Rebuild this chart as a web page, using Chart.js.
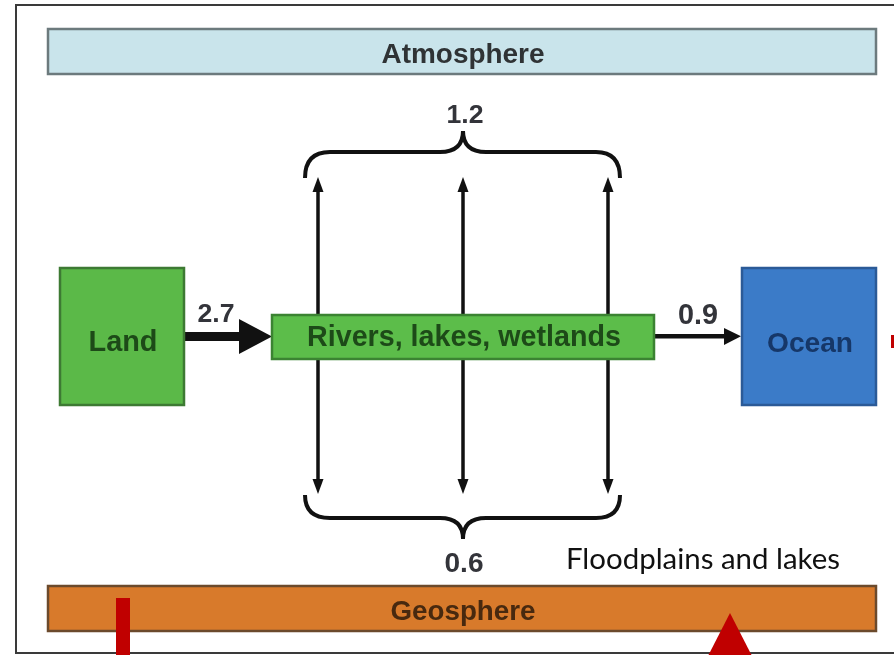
<!DOCTYPE html>
<html>
<head>
<meta charset="utf-8">
<script src="https://cdn.jsdelivr.net/npm/chart.js@4"></script>
<style>
  html, body { margin: 0; padding: 0; background: #ffffff; }
  #wrap { width: 894px; height: 655px; position: relative; }
</style>
</head>
<body>
<div id="wrap"><canvas id="chartFlux"></canvas></div>
<script>
// compartments and water fluxes (Pg C / yr)
const compartments = ["Atmosphere", "Land", "Rivers, lakes, wetlands", "Ocean", "Geosphere"];
const fluxFrom = ["Land", "Rivers, lakes, wetlands", "Rivers, lakes, wetlands", "Rivers, lakes, wetlands"];
const fluxTo = ["Rivers, lakes, wetlands", "Ocean", "Atmosphere", "Geosphere"];
const fluxValues = [2.7, 0.9, 1.2, 0.6];
const noteLabels = ["Floodplains and lakes"];

// layout, in page units (x to the right, y down)
const boxLayout = {
  "Atmosphere": { x0: 48, y0: 29, x1: 876, y1: 74, fill: "#c9e4eb", stroke: "#6c7a7d", ink: "#2f3335", textW: 163, base: 63 },
  "Land": { x0: 60, y0: 268, x1: 184, y1: 405, fill: "#5bb948", stroke: "#3d7a33", ink: "#1d4a18", textW: 69, base: 351 },
  "Rivers, lakes, wetlands": { x0: 272, y0: 315, x1: 654, y1: 359, fill: "#5cbd4a", stroke: "#3b8332", ink: "#1d4a18", textW: 314, base: 346 },
  "Ocean": { x0: 742, y0: 268, x1: 876, y1: 405, fill: "#3b7bc8", stroke: "#2b5a97", ink: "#163768", textW: 86, base: 352 },
  "Geosphere": { x0: 48, y0: 586, x1: 876, y1: 631, fill: "#d87a2b", stroke: "#6b4a2c", ink: "#48290f", textW: 145, base: 620 },
};
const riverColumns = [318, 463, 608];

function fontFor(ctx, text, weight, family, width) {
  ctx.font = `${weight} 100px ${family}`;
  const size = (100 * width) / ctx.measureText(text).width;
  return `${weight} ${size.toFixed(2)}px ${family}`;
}

const diagramPlugin = {
  id: "diagram",
  afterDraw(chart) {
    const ctx = chart.ctx;
    const sx = chart.scales.x, sy = chart.scales.y;
    const X = (v) => sx.getPixelForValue(v);
    const Y = (v) => sy.getPixelForValue(v);
    ctx.save();

    // outer frame
    ctx.strokeStyle = "#3a3a3a";
    ctx.lineWidth = 2;
    ctx.beginPath();
    ctx.moveTo(X(894), Y(5));
    ctx.lineTo(X(16), Y(5));
    ctx.lineTo(X(16), Y(653));
    ctx.lineTo(X(894), Y(653));
    ctx.stroke();

    ctx.strokeStyle = "#111";
    ctx.fillStyle = "#111";
    ctx.lineCap = "butt";

    // vertical exchange arrows (up to atmosphere, down to geosphere)
    riverColumns.forEach((cx) => {
      ctx.lineWidth = 3.5;
      ctx.beginPath();
      ctx.moveTo(X(cx), Y(188));
      ctx.lineTo(X(cx), Y(484));
      ctx.stroke();
      ctx.beginPath();
      ctx.moveTo(X(cx), Y(177));
      ctx.lineTo(X(cx - 5.5), Y(192));
      ctx.lineTo(X(cx + 5.5), Y(192));
      ctx.closePath();
      ctx.fill();
      ctx.beginPath();
      ctx.moveTo(X(cx), Y(494));
      ctx.lineTo(X(cx - 5.5), Y(479));
      ctx.lineTo(X(cx + 5.5), Y(479));
      ctx.closePath();
      ctx.fill();
    });

    // braces
    function brace(yEnd, yBar, yTip) {
      ctx.lineWidth = 4;
      ctx.beginPath();
      ctx.moveTo(X(305), Y(yEnd));
      ctx.quadraticCurveTo(X(305), Y(yBar), X(330), Y(yBar));
      ctx.lineTo(X(440), Y(yBar));
      ctx.quadraticCurveTo(X(463), Y(yBar), X(463), Y(yTip));
      ctx.quadraticCurveTo(X(463), Y(yBar), X(486), Y(yBar));
      ctx.lineTo(X(596), Y(yBar));
      ctx.quadraticCurveTo(X(620), Y(yBar), X(620), Y(yEnd));
      ctx.stroke();
    }
    brace(178, 152, 131);
    brace(495, 518, 539);

    // horizontal arrows
    ctx.fillRect(X(184), Y(332), X(242) - X(184), Y(341) - Y(332));
    ctx.beginPath();
    ctx.moveTo(X(272), Y(336.5));
    ctx.lineTo(X(239), Y(319));
    ctx.lineTo(X(239), Y(354));
    ctx.closePath();
    ctx.fill();

    ctx.fillRect(X(654), Y(334), X(727) - X(654), Y(338.5) - Y(334));
    ctx.beginPath();
    ctx.moveTo(X(741), Y(336.3));
    ctx.lineTo(X(724), Y(328));
    ctx.lineTo(X(724), Y(345));
    ctx.closePath();
    ctx.fill();

    // boxes
    compartments.forEach((name) => {
      const b = boxLayout[name];
      ctx.fillStyle = b.fill;
      ctx.fillRect(X(b.x0), Y(b.y0), X(b.x1) - X(b.x0), Y(b.y1) - Y(b.y0));
      ctx.strokeStyle = b.stroke;
      ctx.lineWidth = 2.5;
      ctx.strokeRect(X(b.x0), Y(b.y0), X(b.x1) - X(b.x0), Y(b.y1) - Y(b.y0));
      ctx.fillStyle = b.ink;
      ctx.textAlign = "center";
      ctx.textBaseline = "alphabetic";
      ctx.font = fontFor(ctx, name, "bold", "'Liberation Sans', Arial, sans-serif", b.textW);
      ctx.fillText(name, X((b.x0 + b.x1) / 2 + 1), Y(b.base));
    });

    // flux values
    const fluxPos = [
      { x: 216, base: 322, w: 37 },
      { x: 698, base: 324, w: 40 },
      { x: 465, base: 123, w: 37 },
      { x: 464, base: 572, w: 39 },
    ];
    ctx.fillStyle = "#33343a";
    fluxValues.forEach((v, i) => {
      const t = v.toFixed(1);
      ctx.font = fontFor(ctx, t, "bold", "'Liberation Sans', Arial, sans-serif", fluxPos[i].w);
      ctx.fillText(t, X(fluxPos[i].x), Y(fluxPos[i].base));
    });

    // note
    ctx.fillStyle = "#111";
    ctx.textAlign = "left";
    ctx.font = fontFor(ctx, noteLabels[0], "normal", "Lato, 'Open Sans', sans-serif", 274);
    ctx.fillText(noteLabels[0], X(566), Y(569));

    // red markers
    ctx.fillStyle = "#c00000";
    ctx.fillRect(X(116), Y(598), X(130) - X(116), Y(655) - Y(598));
    ctx.fillRect(X(891), Y(335), X(894) - X(891), Y(348) - Y(335));
    ctx.beginPath();
    ctx.moveTo(X(730), Y(613));
    ctx.lineTo(X(708), Y(656));
    ctx.lineTo(X(752), Y(656));
    ctx.closePath();
    ctx.fill();

    ctx.restore();
  },
};

const chartFlux = new Chart(document.getElementById("chartFlux").getContext("2d"), {
  type: "scatter",
  data: { datasets: [{ label: "flux", data: [], pointRadius: 0 }] },
  options: {
    responsive: true,
    maintainAspectRatio: false,
    animation: false,
    layout: { padding: 0 },
    plugins: { legend: { display: false }, tooltip: { enabled: false } },
    scales: {
      x: { type: "linear", min: 0, max: 894, display: false },
      y: { type: "linear", min: 0, max: 655, reverse: true, display: false },
    },
  },
  plugins: [diagramPlugin],
});
</script>
</body>
</html>
